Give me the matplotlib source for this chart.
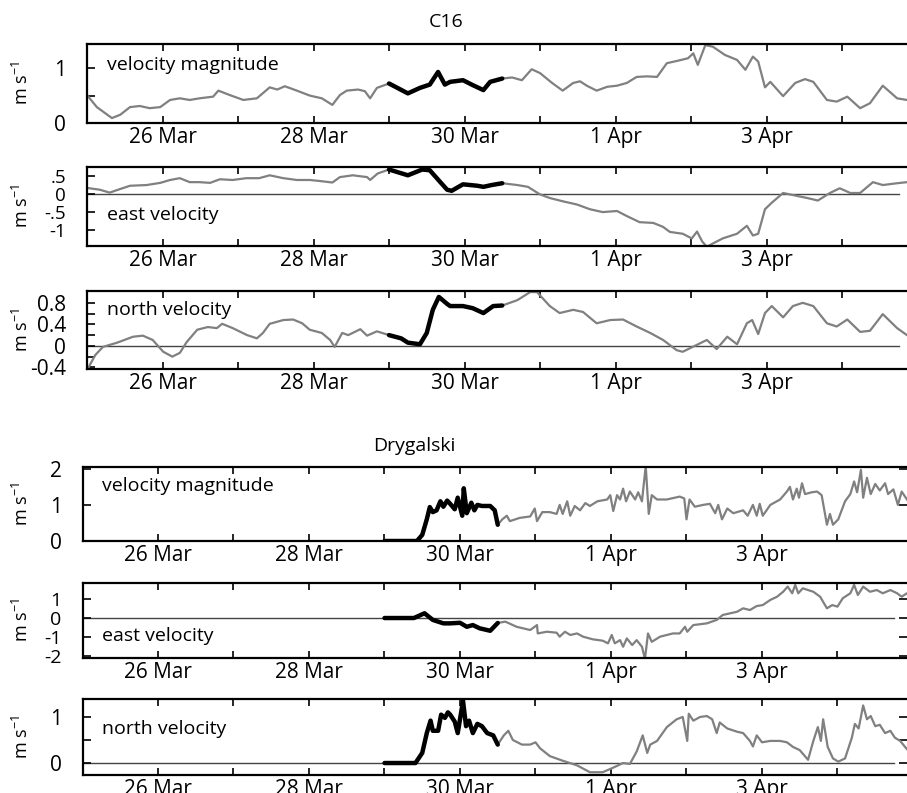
import matplotlib
matplotlib.use("Agg")
import matplotlib.pyplot as plt
import numpy as np

plt.rcParams['font.family'] = ['Open Sans', 'DejaVu Sans']
plt.rcParams['mathtext.default'] = 'regular'

# time axis: days since 25 Mar 00:00
day_ticks = list(range(0, 11))
day_labels = ["", "26 Mar", "", "28 Mar", "", "30 Mar", "", "1 Apr", "", "3 Apr", ""]
drift_start = 4.0   # 29 Mar, start of the bold segment
drift_end = 5.5     # 30 Mar 12:00

# ---- C16 ----
c16_t_mag = [0.00, 0.13, 0.33, 0.44, 0.57, 0.70, 0.83, 0.97, 1.10, 1.23, 1.36, 1.49, 1.67, 1.74,
             1.89, 2.07, 2.25, 2.42, 2.52, 2.62, 2.78, 2.95, 3.11, 3.25, 3.35, 3.44, 3.59, 3.68,
             3.75, 3.84, 4.00, 4.25, 4.41, 4.54, 4.65, 4.74, 4.81, 4.98, 5.11, 5.25, 5.34, 5.50,
             5.63, 5.76, 5.89, 6.00, 6.16, 6.30, 6.44, 6.53, 6.62, 6.75, 6.89, 7.02, 7.15, 7.28,
             7.42, 7.55, 7.68, 7.81, 7.96, 8.03, 8.09, 8.19, 8.29, 8.45, 8.61, 8.72, 8.82, 8.89,
             8.98, 9.05, 9.22, 9.38, 9.51, 9.62, 9.80, 9.93, 10.07, 10.24, 10.37, 10.54, 10.73,
             10.86, 10.95]
c16_mag = [0.51, 0.29, 0.09, 0.15, 0.29, 0.31, 0.27, 0.29, 0.42, 0.45, 0.42, 0.45, 0.48, 0.59,
           0.51, 0.42, 0.45, 0.65, 0.61, 0.67, 0.59, 0.50, 0.45, 0.33, 0.51, 0.59, 0.61, 0.58,
           0.45, 0.64, 0.72, 0.54, 0.64, 0.70, 0.93, 0.70, 0.75, 0.78, 0.69, 0.60, 0.75, 0.81,
           0.83, 0.78, 0.98, 0.91, 0.73, 0.59, 0.73, 0.76, 0.68, 0.59, 0.66, 0.68, 0.73, 0.84,
           0.85, 0.84, 1.09, 1.13, 1.18, 1.27, 1.06, 1.42, 1.39, 1.24, 1.15, 0.97, 1.21, 1.12,
           0.65, 0.75, 0.49, 0.73, 0.80, 0.75, 0.42, 0.39, 0.48, 0.27, 0.36, 0.68, 0.45,
           0.42, 0.42]

c16_t_east = [0.00, 0.17, 0.30, 0.44, 0.57, 0.79, 0.97, 1.10, 1.23, 1.36, 1.49, 1.63, 1.76, 1.93,
              2.11, 2.28, 2.42, 2.60, 2.78, 2.95, 3.09, 3.25, 3.35, 3.52, 3.71, 3.75, 3.85, 4.00,
              4.25, 4.44, 4.54, 4.68, 4.77, 4.83, 4.98, 5.17, 5.25, 5.36, 5.50,
              5.70, 5.84, 6.00, 6.13, 6.30, 6.49, 6.66, 6.83, 7.02, 7.15, 7.32, 7.50, 7.63, 7.72,
              7.89, 8.01, 8.08, 8.15, 8.21, 8.29, 8.42, 8.61, 8.74, 8.82, 8.89, 8.98, 9.07, 9.22,
              9.40, 9.54, 9.68, 9.84, 9.97, 10.11, 10.24, 10.41, 10.54, 10.73, 10.86, 10.95]
c16_east = [0.18, 0.13, 0.05, 0.15, 0.24, 0.26, 0.32, 0.40, 0.45, 0.34, 0.34, 0.32, 0.42, 0.40,
            0.45, 0.45, 0.53, 0.45, 0.40, 0.40, 0.37, 0.33, 0.48, 0.53, 0.48, 0.40, 0.58, 0.69,
            0.53, 0.69, 0.67, 0.34, 0.13, 0.10, 0.28, 0.24, 0.21, 0.26, 0.31,
            0.26, 0.21, 0.00, -0.10, -0.19, -0.28, -0.41, -0.49, -0.46, -0.60, -0.77, -0.79, -0.90, -1.04,
            -1.09, -1.22, -1.03, -1.31, -1.45, -1.36, -1.22, -1.09, -0.87, -1.14, -1.09, -0.41, -0.23, 0.04,
            -0.04, -0.10, -0.17, 0.04, 0.17, 0.04, 0.04, 0.34, 0.26, 0.31, 0.34, 0.34]

c16_t_north = [0.00, 0.11, 0.21, 0.40, 0.61, 0.74, 0.87, 1.01, 1.13, 1.23, 1.32, 1.46, 1.60, 1.72,
               1.79, 1.93, 2.12, 2.25, 2.33, 2.42, 2.60, 2.73, 2.85, 2.95, 3.11, 3.22, 3.28, 3.38,
               3.46, 3.62, 3.71, 3.84, 4.00, 4.16, 4.25, 4.41, 4.50, 4.58, 4.66, 4.77, 4.81, 4.98,
               5.11, 5.25, 5.38, 5.50, 5.70, 5.87, 5.96, 6.13, 6.26, 6.44, 6.57, 6.75, 6.93, 7.10,
               7.28, 7.46, 7.63, 7.81, 7.89, 8.08, 8.21, 8.34, 8.48, 8.61, 8.74, 8.81, 8.89, 8.98,
               9.07, 9.22, 9.35, 9.48, 9.62, 9.80, 9.93, 10.07, 10.24, 10.37, 10.54, 10.73, 10.86,
               10.95]
c16_north = [-0.45, -0.17, -0.02, 0.06, 0.17, 0.19, 0.11, -0.11, -0.20, -0.13, 0.07, 0.30, 0.35, 0.33,
             0.41, 0.33, 0.20, 0.14, 0.24, 0.41, 0.48, 0.49, 0.42, 0.30, 0.24, 0.11, -0.02, 0.24,
             0.20, 0.31, 0.19, 0.27, 0.20, 0.14, 0.06, 0.03, 0.24, 0.67, 0.91, 0.78, 0.74, 0.74,
             0.70, 0.61, 0.74, 0.75, 0.85, 1.00, 1.00, 0.74, 0.61, 0.67, 0.63, 0.42, 0.48, 0.49,
             0.36, 0.24, 0.11, -0.08, -0.11, 0.02, 0.11, -0.06, 0.17, 0.03, 0.42, 0.48, 0.22, 0.61,
             0.74, 0.53, 0.74, 0.80, 0.74, 0.42, 0.36, 0.49, 0.26, 0.28, 0.59, 0.33, 0.20,
             0.16]

# ---- Drygalski ----
dry_t_mag = [4.00, 4.43, 4.50, 4.56, 4.60, 4.64, 4.69, 4.74, 4.78, 4.83, 4.87, 4.93, 4.97, 5.03,
             5.05, 5.09, 5.15, 5.19, 5.23, 5.29, 5.40, 5.46, 5.50,
             5.56, 5.62, 5.66, 5.79, 5.93, 5.99, 6.02, 6.09, 6.19, 6.28, 6.32, 6.36, 6.42, 6.46,
             6.52, 6.59, 6.66, 6.72, 6.82, 6.95, 6.99, 7.03, 7.08, 7.12, 7.16, 7.20, 7.25, 7.32,
             7.36, 7.41, 7.46, 7.50, 7.54, 7.61, 7.74, 7.91, 7.97, 8.00, 8.04, 8.11, 8.22, 8.31,
             8.38, 8.42, 8.47, 8.54, 8.62, 8.75, 8.81, 8.88, 8.93, 8.97, 9.01, 9.11, 9.24, 9.33,
             9.37, 9.41, 9.46, 9.49, 9.53, 9.57, 9.66, 9.73, 9.79, 9.86, 9.90, 9.94, 10.01, 10.10,
             10.17, 10.22, 10.26, 10.31, 10.34, 10.39, 10.44, 10.50, 10.56, 10.63, 10.67, 10.74,
             10.80, 10.85, 10.92]
dry_mag = [0.00, 0.00, 0.17, 0.60, 0.94, 0.80, 0.85, 1.10, 0.95, 1.12, 1.03, 0.88, 1.20, 0.70,
           1.46, 0.77, 1.06, 0.85, 1.00, 0.97, 0.97, 0.85, 0.45,
           0.60, 0.70, 0.55, 0.64, 0.68, 0.90, 0.55, 0.80, 0.80, 0.75, 1.00, 0.75, 1.10, 0.70,
           0.97, 0.85, 1.05, 0.97, 1.10, 1.15, 1.27, 0.83, 1.27, 1.15, 1.45, 1.10, 1.37, 1.15,
           1.35, 1.10, 2.08, 0.75, 1.27, 1.15, 1.15, 1.23, 1.18, 0.60, 1.15, 0.95, 1.00, 1.03,
           0.77, 1.00, 0.60, 0.90, 0.77, 0.85, 0.70, 1.00, 0.70, 1.03, 0.70, 1.00, 1.15, 1.37,
           1.50, 1.15, 1.45, 1.20, 1.60, 1.30, 1.35, 1.37, 1.27, 0.45, 0.75, 0.45, 0.60, 1.10,
           1.30, 1.65, 1.35, 1.97, 1.20, 1.75, 1.30, 1.58, 1.40, 1.60, 1.30, 1.43,
           1.00, 1.37, 1.15]

dry_t_east = [4.00, 4.39, 4.53, 4.64, 4.78, 4.87, 5.00, 5.09, 5.17, 5.26, 5.40, 5.50,
              5.60, 5.75, 5.93, 6.02, 6.03, 6.15, 6.28, 6.32, 6.39, 6.46, 6.55, 6.63, 6.76, 6.89,
              6.96, 7.01, 7.05, 7.12, 7.16, 7.21, 7.28, 7.34, 7.41, 7.45, 7.49, 7.54, 7.65, 7.82,
              7.91, 7.98, 8.01, 8.09, 8.27, 8.40, 8.48, 8.67, 8.75, 8.84, 8.93, 9.01, 9.11, 9.20,
              9.28, 9.34, 9.40, 9.44, 9.48, 9.54, 9.68, 9.77, 9.86, 9.93, 10.00, 10.07, 10.17,
              10.22, 10.27, 10.34, 10.43, 10.52, 10.60, 10.70, 10.79, 10.85, 10.92]
dry_east = [0.00, 0.00, 0.25, -0.10, -0.28, -0.28, -0.25, -0.46, -0.37, -0.54, -0.67, -0.26,
            -0.19, -0.46, -0.63, -0.37, -0.81, -0.72, -0.77, -0.98, -0.72, -0.89, -0.81, -0.98, -1.12, -1.19,
            -1.33, -0.89, -1.33, -1.16, -1.51, -1.07, -1.42, -1.16, -1.51, -2.15, -0.81, -1.25, -0.98, -0.81,
            -0.81, -0.46, -0.72, -0.37, -0.28, -0.10, 0.16, 0.33, 0.51, 0.42, 0.63, 0.68, 0.95, 1.12,
            1.38, 1.65, 1.30, 1.74, 1.30, 1.56, 1.38, 1.12, 0.51, 0.68, 0.60, 1.04, 1.30,
            1.74, 1.21, 1.65, 1.38, 1.47, 1.30, 1.47, 1.30, 1.12, 1.30]

dry_t_north = [4.00, 4.41, 4.50, 4.56, 4.61, 4.64, 4.71, 4.75, 4.80, 4.84, 4.87, 4.93, 4.97, 5.04,
               5.08, 5.12, 5.17, 5.23, 5.29, 5.36, 5.44, 5.50,
               5.58, 5.64, 5.70, 5.82, 5.93, 6.00, 6.06, 6.19, 6.36, 6.55, 6.72, 6.89, 7.03, 7.16,
               7.25, 7.34, 7.42, 7.48, 7.52, 7.61, 7.74, 7.87, 7.95, 8.01, 8.03, 8.09, 8.18, 8.27,
               8.34, 8.40, 8.44, 8.54, 8.67, 8.75, 8.84, 8.88, 8.93, 9.00, 9.11, 9.24, 9.33, 9.41,
               9.50, 9.61, 9.68, 9.74, 9.78, 9.81, 9.87, 9.94, 10.01, 10.10, 10.19, 10.23, 10.28,
               10.34, 10.39, 10.44, 10.50, 10.56, 10.63, 10.70, 10.76, 10.83, 10.92]
dry_north = [0.00, 0.00, 0.22, 0.65, 0.92, 0.70, 0.70, 1.05, 0.98, 1.10, 1.05, 0.90, 0.65, 1.35,
             0.80, 0.92, 0.65, 0.85, 0.80, 0.65, 0.60, 0.40,
             0.60, 0.70, 0.50, 0.40, 0.40, 0.45, 0.32, 0.15, 0.05, -0.05, -0.20, -0.20, -0.10, 0.00,
             -0.02, 0.25, 0.60, 0.22, 0.40, 0.48, 0.78, 0.95, 1.00, 0.48, 1.07, 0.92, 1.00, 1.02,
             0.95, 0.65, 0.88, 0.75, 0.68, 0.65, 0.48, 0.36, 0.60, 0.45, 0.48, 0.48, 0.45, 0.35,
             0.28, 0.07, 0.48, 0.78, 0.48, 0.95, 0.35, 0.10, 0.03, 0.10, 0.55, 0.85, 0.75,
             1.25, 0.95, 1.02, 0.80, 0.83, 0.65, 0.70, 0.55, 0.48, 0.30]

W, H = 907, 793
fig = plt.figure(figsize=(W / 100, H / 100), dpi=100)

# panel boxes in pixels: left, top, bottom
panels = [
    (87, 44, 123, c16_t_mag, c16_mag, (0, 1.44), [0, 0.5, 1], ["0", "", "1"], "velocity magnitude", 0.73, False, 15),
    (87, 167, 246, c16_t_east, c16_east, (-1.43, 0.76), [-1, -0.5, 0, 0.5], ["-1", "-.5", "0", ".5"], "east velocity", 0.39, True, 13.5),
    (87, 291, 369, c16_t_north, c16_north, (-0.43, 1.02), [-0.4, -0.2, 0, 0.2, 0.4, 0.6, 0.8],
     ["-0.4", "", "0", "", "0.4", "", "0.8"], "north velocity", 0.76, True, 15),
    (82.5, 467, 541, dry_t_mag, dry_mag, (0, 2.05), [0, 1, 2], ["0", "1", "2"], "velocity magnitude", 0.74, False, 15),
    (82.5, 583, 658, dry_t_east, dry_east, (-2.1, 1.84), [-2, -1, 0, 1], ["-2", "-1", "0", "1"], "east velocity", 0.29, True, 14),
    (82.5, 699, 775, dry_t_north, dry_north, (-0.26, 1.39), [0, 0.5, 1], ["0", "", "1"], "north velocity", 0.60, True, 15),
]

px_per_day = 75.5
width_px = 825

for i, (left, top, bottom, t, v, ylim, yt, ytl, label, ly, zero, ysize) in enumerate(panels):
    ax = fig.add_axes([left / W, 1 - bottom / H, width_px / W, (bottom - top) / H])
    t = np.array(t)
    v = np.array(v)
    xmax = width_px / px_per_day
    if zero:
        ax.plot([0, 10.75], [0, 0], color='#444444', lw=1.0, zorder=1)
    ax.plot(t[t >= drift_end - 0.001], v[t >= drift_end - 0.001], color='#808080', lw=1.6, zorder=2)
    ax.plot(t[t <= drift_start + 0.001], v[t <= drift_start + 0.001], color='#808080', lw=1.6, zorder=2)
    m = (t >= drift_start - 0.001) & (t <= drift_end + 0.001)
    ax.plot(t[m], v[m], color='black', lw=3.2, zorder=3, solid_capstyle='round')
    ax.set_xlim(0, xmax)
    ax.set_ylim(*ylim)
    ax.set_xticks(day_ticks)
    ax.set_xticklabels(day_labels)
    ax.set_yticks(yt)
    ax.set_yticklabels(ytl)
    ax.tick_params(axis='x', direction='in', length=5, width=1.2, top=True, bottom=True,
                   labelsize=15, pad=3)
    ax.tick_params(axis='y', direction='in', length=6, width=1.2, left=True, right=(i >= 3),
                   labelsize=ysize, pad=15)
    for s in ['top', 'bottom', 'left']:
        ax.spines[s].set_linewidth(1.6)
    ax.spines['right'].set_visible(False)
    ax.text(20 / width_px, ly, label, transform=ax.transAxes, fontsize=14, va='center', ha='left')
    fig.text(22 / W, 1 - (top + bottom) / 2 / H, "m s$^{-1}$", rotation=90, fontsize=13,
             ha='center', va='center')

fig.text(446 / W, 1 - 22 / H, "C16", fontsize=14, ha='center', va='center')
fig.text(414 / W, 1 - 446 / H, "Drygalski", fontsize=14, ha='center', va='center')

fig.savefig("out.png", dpi=100)
